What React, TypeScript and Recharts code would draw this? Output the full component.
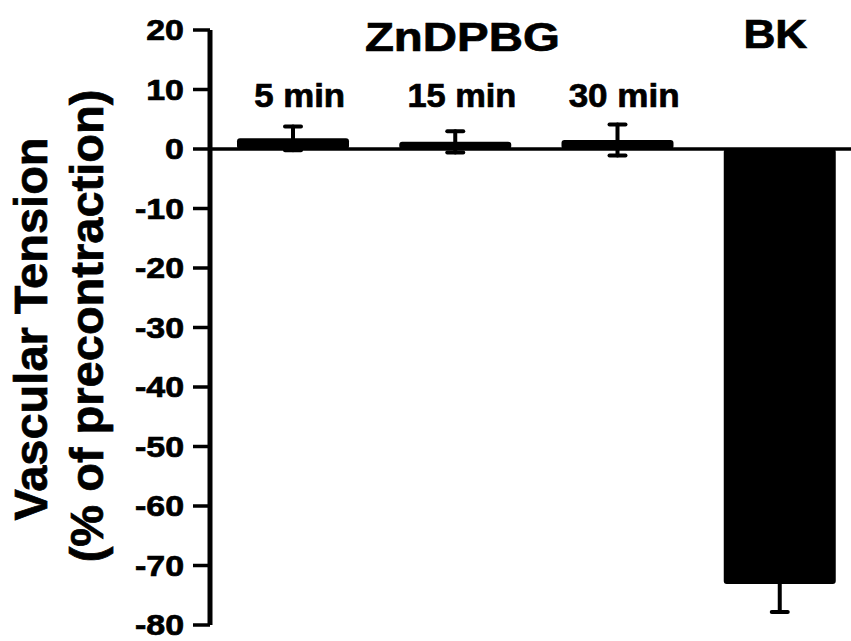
import React from 'react';
import { BarChart, Bar, XAxis, YAxis, ErrorBar, ReferenceLine, Label } from 'recharts';

const categories = ['5 min', '15 min', '30 min', 'BK'];
const tensionMean = [1.8, 1.2, 1.5, -73.1];
const tensionSem = [2.0, 1.8, 2.6, 4.7];
const yTicks = [-80, -70, -60, -50, -40, -30, -20, -10, 0, 10, 20];
const groupLabel = 'ZnDPBG';
const groupMembers = ['5 min', '15 min', '30 min'];
const yLabelLines = ['Vascular Tension', '(% of precontraction)'];

const data = categories.map((c, i) => ({ category: c, mean: tensionMean[i], sem: tensionSem[i] }));

const FONT = '"Liberation Sans", Arial, Helvetica, sans-serif';
const HEAVY = { stroke: '#000', strokeWidth: 0.7 };

const TopTick = (props: any) => {
  const { x, payload, index } = props;
  const value: string = payload.value;
  if (!groupMembers.includes(value)) {
    return (
      <text x={x - 4.5} y={48} textAnchor="middle" fontSize={40} fontWeight="bold" fontFamily={FONT} fill="#000"
        {...HEAVY} textLength={64} lengthAdjust="spacingAndGlyphs">
        {value}
      </text>
    );
  }
  const widths = [91, 109, 111];
  return (
    <g>
      <text x={x + 6.5} y={107} textAnchor="middle" fontSize={33} fontWeight="bold" fontFamily={FONT} fill="#000"
        {...HEAVY} textLength={widths[index]} lengthAdjust="spacingAndGlyphs">
        {value}
      </text>
      {index === 1 ? (
        <text x={x + 7} y={51} textAnchor="middle" fontSize={40} fontWeight="bold" fontFamily={FONT} fill="#000"
          {...HEAVY} textLength={195} lengthAdjust="spacingAndGlyphs">
          {groupLabel}
        </text>
      ) : null}
    </g>
  );
};

const YTick = (props: any) => {
  const { x, y, payload } = props;
  const s = String(payload.value);
  const fs = 29;
  let w = 0;
  for (const ch of s) w += ch === '-' ? 0.333 : 0.556;
  return (
    <text x={x} y={y} dy="0.36em" textAnchor="end" fontSize={fs} fontWeight="bold" fontFamily={FONT} fill="#000"
      {...HEAVY} textLength={w * fs * 1.17} lengthAdjust="spacingAndGlyphs">
      {s}
    </text>
  );
};

const YLabel = () => (
  <g>
    <text transform="translate(47,329) rotate(-90)" textAnchor="middle" fontSize={47} fontWeight="bold" fontFamily={FONT} fill="#000" {...HEAVY}>
      {yLabelLines[0]}
    </text>
    <text transform="translate(103,326) rotate(-90)" textAnchor="middle" fontSize={47} fontWeight="bold" fontFamily={FONT} fill="#000" {...HEAVY}>
      {yLabelLines[1]}
    </text>
  </g>
);

export default function App() {
  return (
    <div style={{ position: 'fixed', left: 0, top: 0, width: 851, height: 641, background: '#fff' }}>
      <BarChart width={851} height={641} data={data} margin={{ top: 29, right: 0, bottom: 16, left: 0 }} barSize={112}>
        <XAxis
          dataKey="category"
          orientation="top"
          axisLine={false}
          tickLine={false}
          height={1}
          interval={0}
          padding={{ left: 2, right: -10 }}
          tick={(p: any) => <TopTick {...p} />}
        />
        <YAxis
          type="number"
          domain={[-80, 20]}
          ticks={yTicks}
          interval={0}
          width={210}
          tickSize={17}
          tickMargin={9}
          axisLine={{ stroke: '#000', strokeWidth: 5 }}
          tickLine={{ stroke: '#000', strokeWidth: 3.5 }}
          tick={(p: any) => <YTick {...p} />}
        >
          <Label content={() => <YLabel />} />
        </YAxis>
        <Bar dataKey="mean" fill="#000" radius={3} isAnimationActive={false}>
          <ErrorBar dataKey="sem" width={8} stroke="#000" strokeWidth={4} strokeLinecap="round" direction="y" />
        </Bar>
        <ReferenceLine y={0} stroke="#000" strokeWidth={3.5} />
      </BarChart>
    </div>
  );
}
